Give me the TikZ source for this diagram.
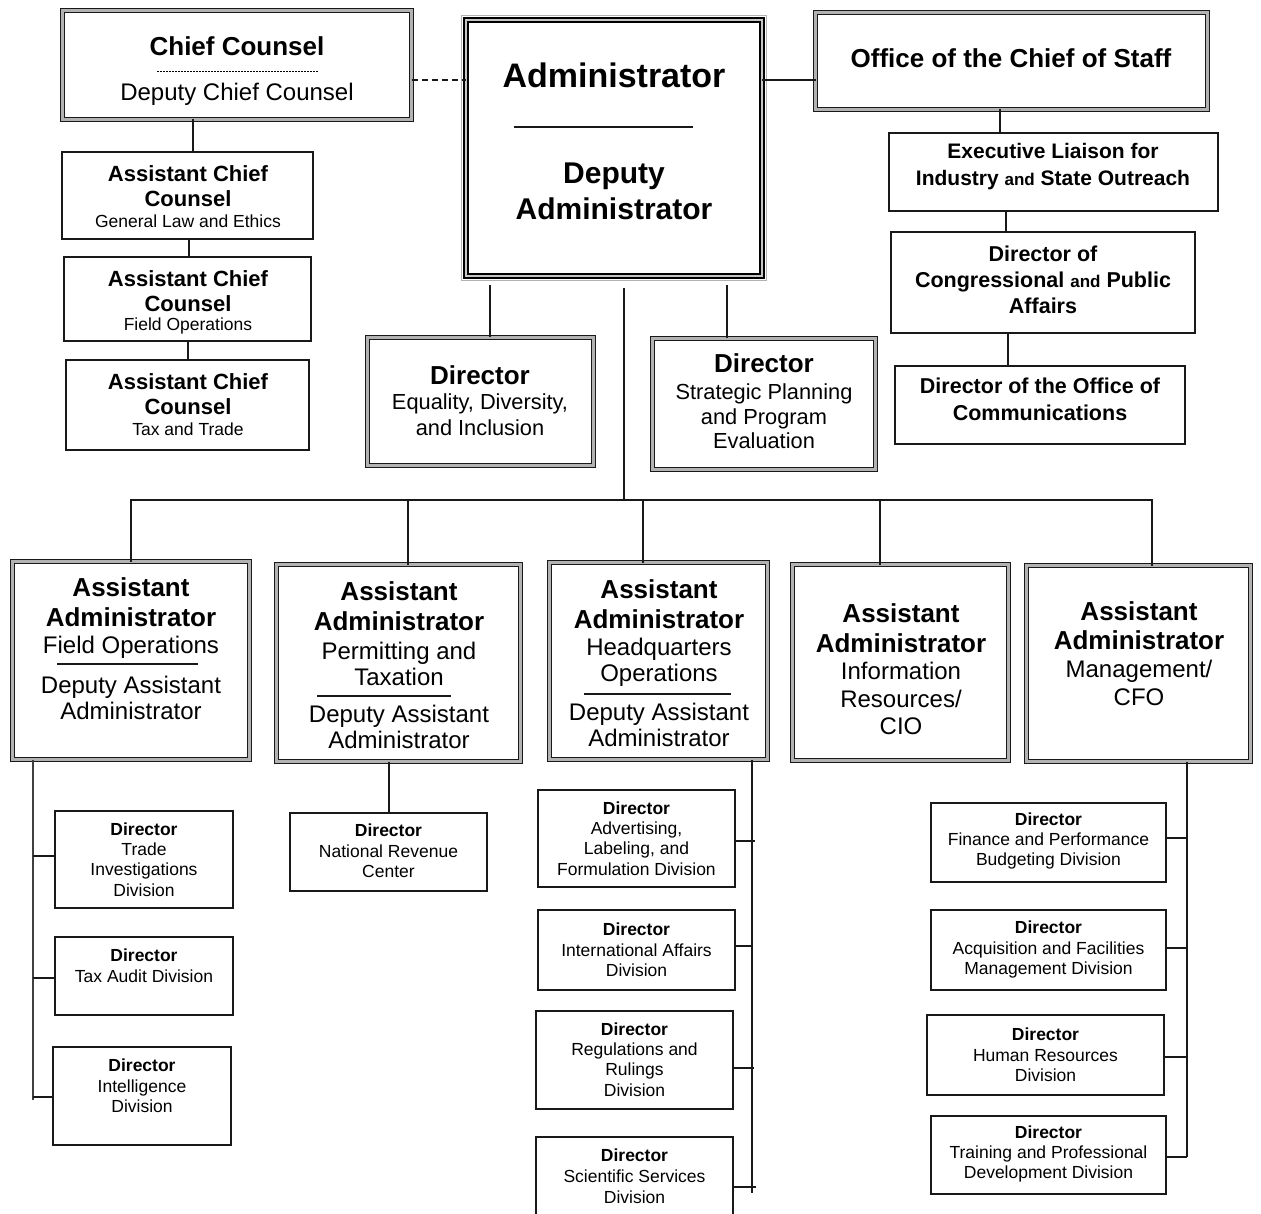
\documentclass[tikz,border=0pt]{standalone}
\usepackage{fontspec}
\setmainfont{Liberation Sans}
\usetikzlibrary{calc}
\tikzset{
  box/.style={draw=black!90, line width=1.6pt, inner sep=0pt, outer sep=0pt, anchor=north west},
  dbox/.style={draw=black!90, line width=1.4pt, double=gray!60, double distance=2.2pt, inner sep=0pt, outer sep=0pt, anchor=north west},
  abox/.style={draw=black, line width=2.2pt, double=gray!45, double distance=1.6pt, inner sep=0pt, outer sep=0pt, anchor=north west},
  conn/.style={line width=1.6pt, draw=black!90},
  sep/.style={line width=1.4pt, draw=black!90},
  txt/.style={align=center, inner sep=0pt, text=black},
  small/.style={txt, font=\fontsize{17.5}{20.3}\selectfont},
}
\newcommand\bx[6]{\node[#6, minimum width={#4-#2}, minimum height={#5-#3}] (#1) at (#2,#3) {};}
\begin{document}
\begin{tikzpicture}[x=1pt,y=-1pt]
\useasboundingbox (0,0) rectangle (1261,1214);
\fill[white] (0,0) rectangle (1261,1214);

% ---------- Chief Counsel ----------
\bx{cc}{62.5}{10.5}{411.5}{119.5}{dbox}
\node[txt,font=\fontsize{26}{30}\selectfont\bfseries] (cct) at (237,46) {Chief Counsel};
\draw[line width=0.8pt, dash pattern=on 2pt off 1pt] (157,71) -- (318,71);
\node[txt,font=\fontsize{24}{28}\selectfont] (ccs) at (237,94) {Deputy Chief Counsel};

% ---------- Administrator ----------
\draw[gray!60, line width=1.5pt] (461.5,15.5) rectangle (766.5,280.5);
\bx{adm}{466}{20}{762}{276}{abox}
\node[txt,font=\fontsize{34}{38}\selectfont\bfseries] (admt) at (614,75) {Administrator};
\draw[sep] (514,127) -- (693,127);
\node[txt,font=\fontsize{30}{36}\selectfont\bfseries] (adms) at (614,191) {Deputy\\Administrator};

% ---------- Chief of Staff ----------
\bx{cos}{815.5}{12.5}{1207.5}{109.5}{dbox}
\node[txt,font=\fontsize{26}{30}\selectfont\bfseries] (cost) at (1011,58) {Office of the Chief of Staff};

\bx{eli}{889}{133}{1218}{211}{box}
\node[txt,font=\fontsize{21}{27}\selectfont\bfseries] (elit) at (1053,166.5) {Executive Liaison for\\Industry {\fontsize{17}{20}\selectfont and} State Outreach};

\bx{dcp}{891}{232}{1195}{333}{box}
\node[txt,font=\fontsize{21.5}{26}\selectfont\bfseries] (dcpt) at (1043,280) {Director of\\Congressional {\fontsize{17}{20}\selectfont and} Public\\Affairs};

\bx{doc}{895}{366}{1185}{444}{box}
\node[txt,font=\fontsize{21.5}{27}\selectfont\bfseries] (doct) at (1040,399.5) {Director of the Office of\\Communications};

% ---------- Assistant Chief Counsels ----------
\bx{acc1}{62}{152}{313}{239}{box}
\node[txt,font=\fontsize{22}{25}\selectfont\bfseries] (acc1t) at (188,186.5) {Assistant Chief\\Counsel};
\node[txt,font=\fontsize{17.5}{20}\selectfont] (acc1s) at (188,221) {General Law and Ethics};

\bx{acc2}{64}{257}{311}{341}{box}
\node[txt,font=\fontsize{22}{25}\selectfont\bfseries] (acc2t) at (188,291.5) {Assistant Chief\\Counsel};
\node[txt,font=\fontsize{17.5}{20}\selectfont] (acc2s) at (188,326) {Field Operations};

\bx{acc3}{66}{360}{309}{450}{box}
\node[txt,font=\fontsize{22}{25}\selectfont\bfseries] (acc3t) at (188,394.5) {Assistant Chief\\Counsel};
\node[txt,font=\fontsize{17.5}{20}\selectfont] (acc3s) at (188,429) {Tax and Trade};

% ---------- Directors under Administrator ----------
\bx{dedi}{367.5}{337.5}{593.5}{465.5}{dbox}
\node[txt,font=\fontsize{26}{30}\selectfont\bfseries] (dedit) at (480,375) {Director};
\node[txt,font=\fontsize{21.8}{26}\selectfont] (dedis) at (480,415) {Equality, Diversity,\\and Inclusion};

\bx{dsp}{652.5}{338.5}{875.5}{469.5}{dbox}
\node[txt,font=\fontsize{26}{30}\selectfont\bfseries] (dspt) at (764,363) {Director};
\node[txt,font=\fontsize{21.8}{24.5}\selectfont] (dsps) at (764,416.5) {Strategic Planning\\and Program\\Evaluation};

% ---------- Assistant Administrators ----------
\bx{aa1}{12.5}{561.5}{249.5}{759.5}{dbox}
\node[txt,font=\fontsize{26}{30}\selectfont\bfseries] (aa1t) at (131,602) {Assistant\\Administrator};
\node[txt,font=\fontsize{24}{26}\selectfont] (aa1s) at (131,647) {Field Operations};
\draw[sep] (57,664) -- (198,664);
\node[txt,font=\fontsize{24}{26}\selectfont] (aa1d) at (131,698) {Deputy Assistant\\Administrator};

\bx{aa2}{276.5}{564.5}{520.5}{761.5}{dbox}
\node[txt,font=\fontsize{26}{30}\selectfont\bfseries] (aa2t) at (399,606) {Assistant\\Administrator};
\node[txt,font=\fontsize{24}{26}\selectfont] (aa2s) at (399,664) {Permitting and\\Taxation};
\draw[sep] (317,696) -- (451,696);
\node[txt,font=\fontsize{24}{26}\selectfont] (aa2d) at (399,727) {Deputy Assistant\\Administrator};

\bx{aa3}{549.5}{562.5}{767.5}{759.5}{dbox}
\node[txt,font=\fontsize{26}{30}\selectfont\bfseries] (aa3t) at (659,604) {Assistant\\Administrator};
\node[txt,font=\fontsize{24}{26}\selectfont] (aa3s) at (659,662) {Headquarters\\Operations};
\draw[sep] (584,694) -- (731,694);
\node[txt,font=\fontsize{24}{26}\selectfont] (aa3d) at (659,725) {Deputy Assistant\\Administrator};

\bx{aa4}{792.5}{564.5}{1008.5}{760.5}{dbox}
\node[txt,font=\fontsize{26}{30}\selectfont\bfseries] (aa4t) at (901,628) {Assistant\\Administrator};
\node[txt,font=\fontsize{24}{27.5}\selectfont] (aa4s) at (901,698.5) {Information\\Resources/\\CIO};

\bx{aa5}{1026.5}{565.5}{1250.5}{761.5}{dbox}
\node[txt,font=\fontsize{26}{29}\selectfont\bfseries] (aa5t) at (1139,625.5) {Assistant\\Administrator};
\node[txt,font=\fontsize{24}{28}\selectfont] (aa5s) at (1139,683) {Management/\\CFO};

% ---------- Field Operations divisions ----------
\bx{trade}{55}{811}{233}{908}{box}
\node[small] (tradet) at (144,859.5) {\textbf{Director}\\Trade\\Investigations\\Division};
\bx{tax}{55}{937}{233}{1015}{box}
\node[small,font=\fontsize{17.5}{21}\selectfont] (taxt) at (144,965.5) {\textbf{Director}\\Tax Audit Division};
\bx{intel}{53}{1047}{231}{1145}{box}
\node[small] (intelt) at (142,1086) {\textbf{Director}\\Intelligence\\Division};

% ---------- Permitting division ----------
\bx{nrc}{290}{813}{487}{891}{box}
\node[small] (nrct) at (388.5,851) {\textbf{Director}\\National Revenue\\Center};

% ---------- HQ Operations divisions ----------
\bx{adv}{538}{790}{735}{887}{box}
\node[small] (advt) at (636.5,838.5) {\textbf{Director}\\Advertising,\\Labeling, and\\Formulation Division};
\bx{intl}{538}{910}{735}{990}{box}
\node[small] (intlt) at (636.5,950) {\textbf{Director}\\International Affairs\\Division};
\bx{reg}{536}{1011}{733}{1109}{box}
\node[small] (regt) at (634.5,1059.5) {\textbf{Director}\\Regulations and\\Rulings\\Division};
\bx{sci}{536}{1137}{733}{1226}{box}
\node[small,font=\fontsize{17.5}{21}\selectfont] (scit) at (634.5,1176) {\textbf{Director}\\Scientific Services\\Division};

% ---------- Management divisions ----------
\bx{fin}{931}{803}{1166}{882}{box}
\node[small] (fint) at (1048.5,841) {\textbf{Director}\\Finance and Performance\\Budgeting Division};
\bx{acq}{931}{910}{1166}{990}{box}
\node[small] (acqt) at (1048.5,949.5) {\textbf{Director}\\Acquisition and Facilities\\Management Division};
\bx{hr}{927}{1015}{1164}{1095}{box}
\node[small] (hrt) at (1045.5,1055) {\textbf{Director}\\Human Resources\\Division};
\bx{trn}{931}{1116}{1166}{1194}{box}
\node[small] (trnt) at (1048.5,1154) {\textbf{Director}\\Training and Professional\\Development Division};

% ---------- Connectors ----------
\draw[conn, dash pattern=on 6pt off 4pt] (cc.east |- 0,80) -- (adm.west |- 0,80);
\draw[conn] (adm.east |- 0,80) -- (cos.west |- 0,80);
\draw[conn] (1000,0 |- cos.south) -- (1000,0 |- eli.north);
\draw[conn] (1006,0 |- eli.south) -- (1006,0 |- dcp.north);
\draw[conn] (1008,0 |- dcp.south) -- (1008,0 |- doc.north);

\draw[conn] (193,0 |- cc.south) -- (193,0 |- acc1.north);
\draw[conn] (189,0 |- acc1.south) -- (189,0 |- acc2.north);
\draw[conn] (188,0 |- acc2.south) -- (188,0 |- acc3.north);

\draw[conn] (490,285) -- (490,0 |- dedi.north);
\draw[conn] (727,285) -- (727,0 |- dsp.north);
\coordinate (bus) at (624,500);
\draw[conn] (624,288) -- (bus);
\draw[conn] (131,0 |- aa1.north) -- (131,500) -- (1152,500) -- (1152,0 |- aa5.north);
\draw[conn] (408,500) -- (408,0 |- aa2.north);
\draw[conn] (643,500) -- (643,0 |- aa3.north);
\draw[conn] (880,500) -- (880,0 |- aa4.north);

% Field Operations tree
\draw[conn, draw=black!75] (33,0 |- aa1.south) -- (33,1100);
\draw[conn] (33,856) -- (trade.west |- 0,856);
\draw[conn] (33,978) -- (tax.west |- 0,978);
\draw[conn] (33,1097) -- (intel.west |- 0,1097);

% Permitting
\draw[conn] (389,0 |- aa2.south) -- (389,0 |- nrc.north);

% HQ tree
\draw[conn] (752,0 |- aa3.south) -- (752,1193);
\draw[conn] (adv.east |- 0,841) -- (755,841);
\draw[conn] (intl.east |- 0,946) -- (752,946);
\draw[conn] (reg.east |- 0,1068) -- (754,1068);
\draw[conn] (sci.east |- 0,1187) -- (756,1187);

% Management tree
\draw[conn] (1187,0 |- aa5.south) -- (1187,1157);
\draw[conn] (fin.east |- 0,838) -- (1187,838);
\draw[conn] (acq.east |- 0,948) -- (1187,948);
\draw[conn] (hr.east |- 0,1057) -- (1187,1057);
\draw[conn] (trn.east |- 0,1157) -- (1187,1157);
\end{tikzpicture}
\end{document}
